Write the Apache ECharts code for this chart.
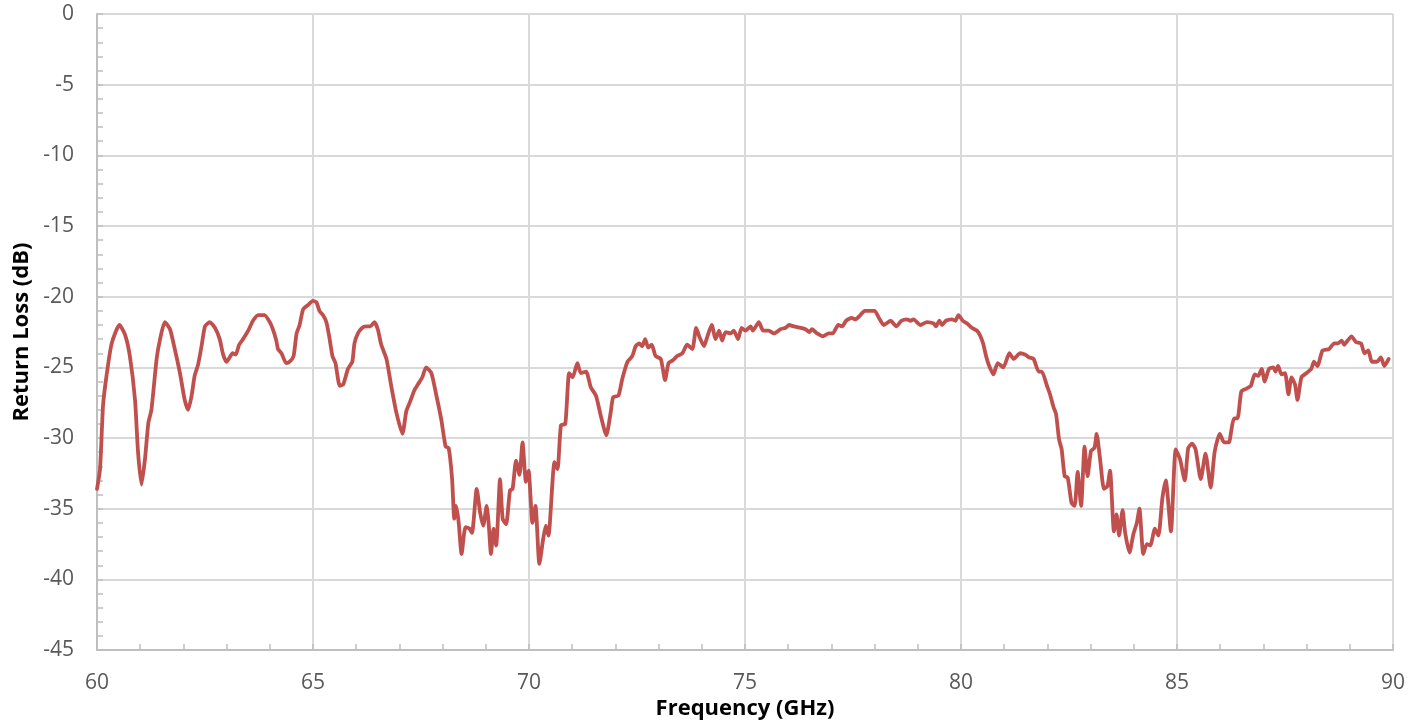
<!DOCTYPE html>
<html>
<head>
<meta charset="utf-8">
<title>Return Loss</title>
<script src="https://cdn.jsdelivr.net/npm/echarts@6/dist/echarts.min.js"></script>
<style>
  html, body { margin: 0; padding: 0; background: #ffffff; }
  #chart { width: 1421px; height: 725px; }
</style>
</head>
<body>
<div id="chart"></div>
<script>
// Measured return loss of the feed, 60–90 GHz
const freqGHz = [
  60.00, 60.07, 60.14, 60.22, 60.34, 60.52, 60.65, 60.76, 60.88, 60.95,
  61.03, 61.11, 61.19, 61.26, 61.38, 61.46, 61.57, 61.69, 61.80, 61.92,
  62.03, 62.11, 62.19, 62.26, 62.34, 62.42, 62.50, 62.61, 62.73, 62.84,
  62.92, 63.00, 63.07, 63.14, 63.21, 63.29, 63.38, 63.50, 63.61, 63.73,
  63.80, 63.88, 64.00, 64.07, 64.15, 64.19, 64.27, 64.38, 64.46, 64.55,
  64.62, 64.69, 64.77, 64.88, 65.00, 65.08, 65.15, 65.23, 65.31, 65.38,
  65.45, 65.52, 65.62, 65.70, 65.81, 65.91, 65.96, 66.04, 66.14, 66.23,
  66.33, 66.42, 66.50, 66.58, 66.70, 66.81, 66.93, 67.07, 67.16, 67.25,
  67.35, 67.43, 67.53, 67.62, 67.74, 67.85, 67.97, 68.07, 68.14, 68.22,
  68.27, 68.31, 68.37, 68.44, 68.53, 68.62, 68.68, 68.79, 68.87, 68.94,
  69.02, 69.07, 69.12, 69.18, 69.24, 69.33, 69.39, 69.47, 69.56, 69.62,
  69.70, 69.78, 69.85, 69.93, 69.99, 70.08, 70.15, 70.24, 70.33, 70.39,
  70.45, 70.59, 70.66, 70.74, 70.84, 70.93, 71.01, 71.12, 71.20, 71.32,
  71.43, 71.55, 71.66, 71.79, 71.89, 71.95, 72.07, 72.16, 72.28, 72.39,
  72.47, 72.55, 72.62, 72.69, 72.76, 72.84, 72.93, 73.05, 73.15, 73.23,
  73.33, 73.43, 73.55, 73.66, 73.78, 73.87, 73.94, 74.05, 74.13, 74.23,
  74.32, 74.40, 74.47, 74.55, 74.67, 74.74, 74.84, 74.92, 75.01, 75.13,
  75.18, 75.32, 75.42, 75.55, 75.67, 75.82, 75.94, 76.02, 76.13, 76.29,
  76.40, 76.49, 76.55, 76.67, 76.80, 76.94, 77.03, 77.16, 77.25, 77.34,
  77.47, 77.56, 77.67, 77.77, 77.88, 78.00, 78.10, 78.21, 78.37, 78.50,
  78.62, 78.75, 78.83, 78.90, 79.06, 79.21, 79.37, 79.42, 79.50, 79.56,
  79.65, 79.79, 79.87, 79.94, 80.04, 80.14, 80.25, 80.37, 80.45, 80.52,
  80.58, 80.64, 80.75, 80.85, 80.98, 81.12, 81.22, 81.37, 81.49, 81.58,
  81.68, 81.80, 81.87, 81.99, 82.06, 82.14, 82.20, 82.27, 82.33, 82.40,
  82.47, 82.56, 82.63, 82.70, 82.78, 82.86, 82.93, 83.01, 83.09, 83.14,
  83.22, 83.31, 83.39, 83.45, 83.54, 83.60, 83.66, 83.74, 83.80, 83.90,
  83.99, 84.07, 84.13, 84.22, 84.30, 84.38, 84.49, 84.57, 84.66, 84.74,
  84.86, 84.97, 85.07, 85.18, 85.26, 85.35, 85.43, 85.55, 85.66, 85.78,
  85.87, 85.99, 86.09, 86.20, 86.26, 86.32, 86.40, 86.49, 86.61, 86.71,
  86.80, 86.88, 86.96, 87.03, 87.13, 87.23, 87.28, 87.34, 87.42, 87.50,
  87.58, 87.65, 87.73, 87.79, 87.88, 88.00, 88.11, 88.17, 88.25, 88.37,
  88.52, 88.64, 88.73, 88.81, 88.87, 88.95, 89.04, 89.14, 89.26, 89.34,
  89.43, 89.51, 89.63, 89.72, 89.80, 89.90
];

const returnLossDb = [
  -33.6, -32.2, -27.7, -25.6, -23.3, -22.0, -22.7, -24.2, -27.3, -31.0,
  -33.3, -31.5, -28.9, -28.0, -24.4, -23.0, -21.8, -22.3, -23.7, -25.4,
  -27.3, -28.0, -27.0, -25.6, -24.8, -23.5, -22.1, -21.8, -22.2, -23.0,
  -24.1, -24.6, -24.3, -24.0, -24.1, -23.4, -23.0, -22.4, -21.7, -21.3,
  -21.3, -21.3, -21.8, -22.3, -23.1, -23.7, -24.0, -24.7, -24.6, -24.2,
  -22.6, -22.0, -20.9, -20.6, -20.3, -20.4, -21.0, -21.3, -21.8, -22.9,
  -24.2, -24.7, -26.3, -26.2, -25.1, -24.6, -23.3, -22.6, -22.2, -22.1,
  -22.1, -21.8, -22.3, -23.4, -24.4, -26.3, -28.2, -29.7, -28.1, -27.4,
  -26.6, -26.2, -25.7, -25.0, -25.4, -26.9, -28.7, -30.6, -30.7, -32.9,
  -35.7, -34.8, -35.9, -38.2, -36.3, -36.4, -36.7, -33.6, -35.3, -36.2,
  -34.8, -36.2, -38.2, -36.4, -37.6, -32.9, -35.7, -36.1, -33.7, -33.6,
  -31.6, -32.6, -30.3, -33.1, -32.3, -36.0, -34.8, -38.9, -37.1, -36.2,
  -36.9, -31.7, -32.2, -29.1, -29.0, -25.4, -25.7, -24.7, -25.4, -25.3,
  -26.4, -27.0, -28.4, -29.8, -28.2, -27.1, -27.0, -25.8, -24.6, -24.2,
  -23.5, -23.3, -23.5, -23.0, -23.6, -23.4, -24.2, -24.4, -25.9, -24.7,
  -24.5, -24.2, -24.0, -23.4, -23.7, -22.2, -22.8, -23.5, -22.8, -22.0,
  -23.0, -22.4, -23.1, -22.5, -22.6, -22.4, -23.0, -22.2, -22.4, -22.1,
  -22.4, -21.8, -22.4, -22.4, -22.6, -22.3, -22.2, -22.0, -22.1, -22.2,
  -22.3, -22.5, -22.3, -22.6, -22.8, -22.6, -22.6, -22.0, -22.1, -21.7,
  -21.5, -21.6, -21.3, -21.0, -21.0, -21.0, -21.5, -22.0, -21.7, -22.1,
  -21.7, -21.6, -21.7, -21.6, -22.0, -21.8, -21.9, -22.1, -21.7, -22.0,
  -21.7, -21.6, -21.7, -21.3, -21.7, -21.9, -22.2, -22.4, -22.8, -23.4,
  -24.2, -24.8, -25.5, -24.7, -25.0, -24.0, -24.4, -24.0, -24.1, -24.3,
  -24.4, -25.3, -25.3, -26.3, -26.9, -27.8, -28.3, -30.1, -30.8, -32.7,
  -32.8, -34.6, -34.8, -32.4, -34.8, -30.6, -32.7, -30.9, -30.7, -29.7,
  -31.5, -33.6, -33.4, -32.3, -36.6, -35.4, -36.9, -35.1, -36.7, -38.1,
  -36.8, -36.0, -35.0, -38.2, -37.5, -37.6, -36.4, -36.9, -34.3, -33.0,
  -36.6, -30.8, -31.5, -33.0, -30.7, -30.4, -30.8, -32.9, -31.1, -33.5,
  -31.0, -29.7, -30.3, -30.3, -29.4, -28.6, -28.6, -26.7, -26.5, -26.3,
  -25.5, -25.6, -25.1, -26.0, -25.1, -25.0, -25.3, -24.9, -25.5, -25.4,
  -26.9, -25.7, -26.2, -27.3, -25.7, -25.4, -25.1, -24.6, -24.9, -23.8,
  -23.7, -23.3, -23.3, -23.1, -23.4, -23.1, -22.8, -23.2, -23.3, -24.0,
  -23.8, -24.6, -24.6, -24.3, -24.9, -24.4
];

const xTicks = { min: 60, max: 90, step: 5 };
const yTicks = { min: -45, max: 0, step: 5 };

const points = freqGHz.map((f, i) => [f, returnLossDb[i]]);

const labelFont = '"Open Sans", "Liberation Sans", sans-serif';
const axisGrey = '#bfbfbf';
const gridGrey = '#d9d9d9';

const chart = echarts.init(document.getElementById('chart'), null, { renderer: 'canvas' });

chart.setOption({
  animation: false,
  backgroundColor: '#ffffff',
  grid: { left: 97, right: 28, top: 14, bottom: 73, containLabel: false },
  xAxis: {
    type: 'value',
    min: xTicks.min,
    max: xTicks.max,
    interval: xTicks.step,
    name: 'Frequency (GHz)',
    nameLocation: 'middle',
    nameGap: 47,
    nameTextStyle: { fontFamily: labelFont, fontSize: 22, fontWeight: 'bold', color: '#000000' },
    axisLine: { show: true, onZero: false, lineStyle: { color: axisGrey, width: 2 } },
    axisTick: { show: true, inside: true, length: 6, lineStyle: { color: axisGrey, width: 1.5 } },
    minorTick: { show: true, splitNumber: 5, length: 6, lineStyle: { color: axisGrey, width: 1.5 } },
    axisLabel: { margin: 22, fontFamily: labelFont, fontSize: 21, color: '#595959' },
    splitLine: { show: true, lineStyle: { color: gridGrey, width: 2 } }
  },
  yAxis: {
    type: 'value',
    min: yTicks.min,
    max: yTicks.max,
    interval: yTicks.step,
    name: 'Return Loss (dB)',
    nameLocation: 'middle',
    nameGap: 63,
    nameTextStyle: { fontFamily: labelFont, fontSize: 22, fontWeight: 'bold', color: '#000000' },
    axisLine: { show: true, onZero: false, lineStyle: { color: axisGrey, width: 2 } },
    axisTick: { show: true, inside: true, length: 6, lineStyle: { color: axisGrey, width: 1.5 } },
    minorTick: { show: true, splitNumber: 5, length: 6, lineStyle: { color: axisGrey, width: 1.5 } },
    axisLabel: { margin: 23, fontFamily: labelFont, fontSize: 21, color: '#595959' },
    splitLine: { show: true, lineStyle: { color: gridGrey, width: 2 } }
  },
  series: [{
    name: 'Return Loss',
    type: 'line',
    data: points,
    showSymbol: false,
    smooth: 0.2,
    lineStyle: { color: '#c0504d', width: 3.8, cap: 'round', join: 'round' },
    z: 3
  }]
});
</script>
</body>
</html>
